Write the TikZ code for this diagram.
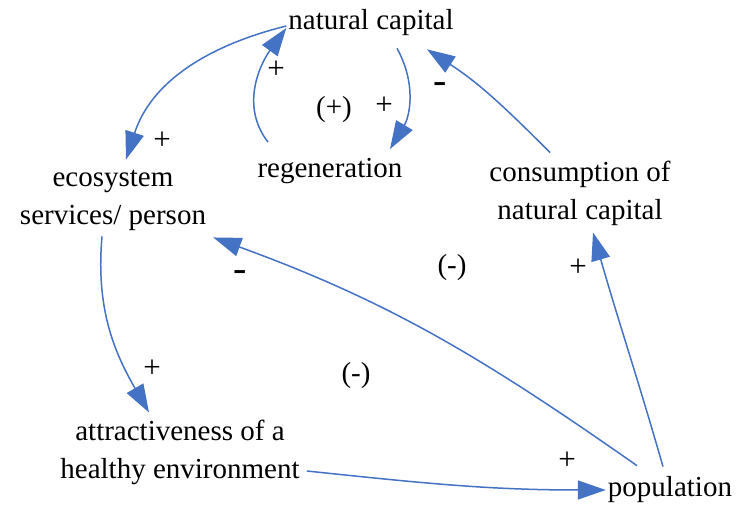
\documentclass[tikz,border=0pt]{standalone}
\usepackage{fontspec}
\newfontfamily\varfont{Liberation Serif}
\usetikzlibrary{arrows.meta}
\definecolor{linkblue}{HTML}{4472C4}

\begin{document}
\begin{tikzpicture}[x=1pt,y=1pt,
  var/.style={align=center, inner sep=2pt, font=\varfont\fontsize{29}{38}\selectfont},
  link/.style={draw=linkblue, line width=1.5pt, -{Triangle[length=28pt,width=19pt]}},
  pol/.style={inner sep=0pt, font=\varfont\fontsize{31}{34}\selectfont},
  neg/.style={inner sep=0pt, font=\varfont\fontsize{40}{42}\selectfont},
  loop/.style={inner sep=0pt, font=\varfont\fontsize{29}{30}\selectfont}]
\useasboundingbox (0,0) rectangle (740,506);

% variables
\node[var] (nc) at (371,483) {natural capital};
\node[var] (reg) at (330,335) {regeneration};
\node[var] (eco) at (113,306) {ecosystem\\services/ person};
\node[var] (cons) at (580,313) {consumption of\\natural capital};
\node[var] (attr) at (180,54) {attractiveness of a\\healthy environment};
\node[var] (pop) at (670,16) {population};

% causal links
\draw[link] ([yshift=-3]nc.west) to[out=194,in=72] ([xshift=13,yshift=8]eco.north);
\draw[link] ([xshift=-62,yshift=14]reg.north) to[out=128,in=234] ([yshift=-5]nc.west);
\draw[link] ([xshift=26,yshift=-10]nc.south) to[out=299,in=59] ([xshift=60,yshift=7]reg.north);
\draw[link] ([xshift=-30,yshift=6]cons.north) to[out=135,in=327] ([xshift=56,yshift=-11]nc.south);
\draw[link] ([xshift=-7,yshift=8]pop.north) to[out=106,in=286] ([xshift=13,yshift=-5]cons.south);
\draw[link] ([xshift=-33,yshift=9]pop.north) to[out=145,in=340] ([xshift=5,yshift=-5]eco.south east);
\draw[link] ([xshift=-11,yshift=-4]eco.south) to[out=265,in=120] ([xshift=-31,yshift=5]attr.north);
\draw[link] ([xshift=5,yshift=-19]attr.east) to[out=-6,in=180] (pop.west);

% polarities
\node[pol] (p-reg-nc) at (276,436) {+};
\node[pol] (p-nc-reg) at (384,400) {+};
\node[neg] (p-cons-nc) at (440,418) {-};
\node[pol] (p-nc-eco) at (162,365) {+};
\node[neg] (p-pop-eco) at (240,230) {-};
\node[pol] (p-pop-cons) at (578,238) {+};
\node[pol] (p-eco-attr) at (152,137) {+};
\node[pol] (p-attr-pop) at (567,45) {+};

% loop markers
\node[loop] (l-regen) at (334,396) {(+)};
\node[loop] (l-cons) at (452,238) {(-)};
\node[loop] (l-attr) at (356,130) {(-)};

\end{tikzpicture}
\end{document}
